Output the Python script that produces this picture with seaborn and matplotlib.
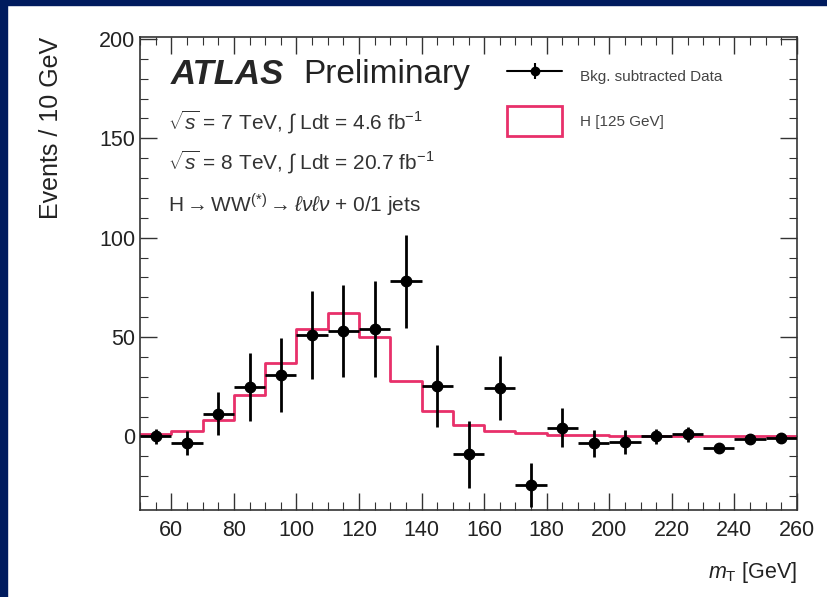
import numpy as np
import pandas as pd
import matplotlib
matplotlib.use("Agg")
import matplotlib.pyplot as plt
import seaborn as sns
from matplotlib.patches import Patch, Rectangle
from matplotlib.lines import Line2D
from matplotlib.legend_handler import HandlerTuple
from matplotlib.ticker import MultipleLocator

# ---- data ----
bin_edges = [50, 60, 70, 80, 90, 100, 110, 120, 130, 140, 150, 160, 170, 180,
             190, 200, 210, 220, 230, 240, 250, 260]
data_x = [55, 65, 75, 85, 95, 105, 115, 125, 135, 145, 155, 165, 175, 185,
          195, 205, 215, 225, 235, 245, 255]
data_y = [0, -3.5, 11.5, 25, 31, 51, 53, 54, 78, 25.5, -9, 24.5, -24.5, 4.5,
          -3.5, -2.7, 0, 1, -5.7, -1.5, -0.8]
data_err = [4, 6, 11, 17, 18.5, 22, 23, 24, 23.5, 20.5, 17, 16, 11, 10,
            7, 6, 4, 4, 2.5, 2.5, 1.5]
signal = [1, 2.7, 8.5, 21, 37, 54, 62, 50, 28, 12.7, 6, 2.7, 1.9, 0.8,
          0.5, 0.3, 0.2, 0.2, 0.1, 0.1, 0.1]

x_ticks = [60, 80, 100, 120, 140, 160, 180, 200, 220, 240, 260]
y_ticks = [0, 50, 100, 150, 200]

sns.set_theme(style="ticks")
plt.rcParams['font.family'] = ['Liberation Sans', 'DejaVu Sans']
plt.rcParams['mathtext.fontset'] = 'custom'
plt.rcParams['mathtext.rm'] = 'Liberation Sans'
plt.rcParams['mathtext.it'] = 'Liberation Sans:italic'
plt.rcParams['mathtext.bf'] = 'Liberation Sans:bold'

fig = plt.figure(figsize=(8.27, 5.97), dpi=100)
ax = fig.add_axes([140/827, 1-510/597, 657/827, 473/597])

sig_color = '#e8306a'
centers = np.array(data_x)
sns.histplot(x=centers, weights=signal, bins=bin_edges, element='step',
             fill=False, color=sig_color, linewidth=2.0, ax=ax)

ax.errorbar(data_x, data_y, yerr=data_err, xerr=5, fmt='o', color='black',
            markersize=7.5, elinewidth=2, capsize=0, zorder=5)

ax.set_xlim(50, 260)
ax.set_ylim(-37, 201)
ax.set_xticks(x_ticks)
ax.set_yticks(y_ticks)
ax.xaxis.set_minor_locator(MultipleLocator(5))
ax.yaxis.set_minor_locator(MultipleLocator(10))
ax.tick_params(which='both', direction='in', top=True, right=True,
               labelsize=15.5, labelcolor='#222222', color='#333333')
ax.tick_params(which='major', length=12, width=1)
ax.tick_params(which='minor', length=6, width=0.8)
ax.tick_params(axis='x', which='major', pad=7)
for s in ax.spines.values():
    s.set_color('#333333')
    s.set_linewidth(1.2)

ax.set_ylabel('Events / 10 GeV', fontsize=18, loc='top', color='#222222', labelpad=26)
ax.set_xlabel(r'$m_{\rm T}$ [GeV]', fontsize=15.5, loc='right', color='#222222', labelpad=14)

# annotations
ax.text(0.047, 0.92, 'ATLAS', transform=ax.transAxes, fontsize=25,
        fontweight='bold', fontstyle='italic', va='center', ha='left')
ax.text(0.248, 0.92, 'Preliminary', transform=ax.transAxes, fontsize=24,
        va='center', ha='left', color='#222222')
ax.text(0.043, 0.82, r'$\sqrt{s}$ = 7 TeV, $\int$ Ldt = 4.6 fb$^{-1}$',
        transform=ax.transAxes, fontsize=15, va='center', ha='left', color='#333333')
ax.text(0.043, 0.734, r'$\sqrt{s}$ = 8 TeV, $\int$ Ldt = 20.7 fb$^{-1}$',
        transform=ax.transAxes, fontsize=15, va='center', ha='left', color='#333333')
ax.text(0.043, 0.645, r'H$\rightarrow$WW$^{(*)}\rightarrow\ell\nu\ell\nu$ + 0/1 jets',
        transform=ax.transAxes, fontsize=15, va='center', ha='left', color='#333333')

h_line = Line2D([], [], color='black', marker='o', markersize=6, linewidth=1.5)
h_vbar = Line2D([], [], color='black', marker='|', markersize=11,
                markeredgewidth=1.5, linestyle='none')
sig_handle = Patch(facecolor='white', edgecolor=sig_color, linewidth=2)
leg = ax.legend([(h_line, h_vbar), sig_handle], ['Bkg. subtracted Data', 'H [125 GeV]'],
                handler_map={tuple: HandlerTuple(ndivide=1)},
                loc='upper left', bbox_to_anchor=(0.5586, 0.949), frameon=False,
                fontsize=11, handlelength=3.6, handleheight=2.6, labelspacing=1.03,
                handletextpad=1.2, borderpad=0, borderaxespad=0)
for t in leg.get_texts():
    t.set_color('#444444')

# navy frame edges
fig.patches.append(Rectangle((0, 0), 7/827, 1, transform=fig.transFigure,
                             color='#001b5e', zorder=10))
fig.patches.append(Rectangle((0, 1-5/597), 1, 5/597, transform=fig.transFigure,
                             color='#001b5e', zorder=10))

fig.savefig('out.png', dpi=100)
